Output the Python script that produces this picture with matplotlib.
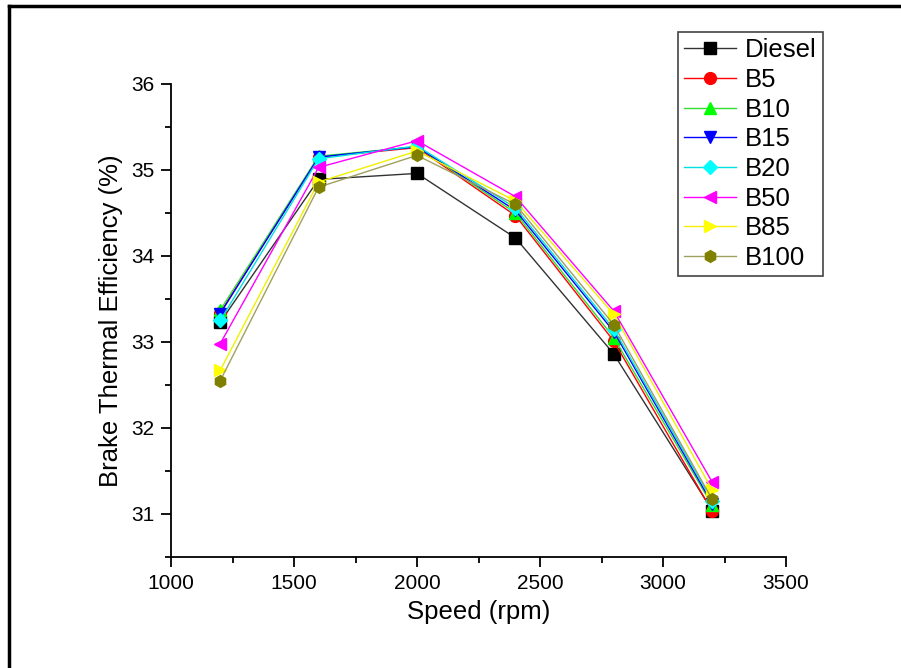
import matplotlib
matplotlib.use('Agg')
import matplotlib.pyplot as plt
from matplotlib.lines import Line2D
from matplotlib.ticker import MultipleLocator, AutoMinorLocator

plt.rcParams['font.family'] = ['Liberation Sans', 'DejaVu Sans']

speed = [1200, 1600, 2000, 2400, 2800, 3200]

diesel = [33.23, 34.89, 34.96, 34.21, 32.86, 31.04]
b5     = [33.34, 35.15, 35.26, 34.47, 33.01, 31.03]
b10    = [33.37, 35.16, 35.27, 34.50, 33.05, 31.10]
b15    = [33.33, 35.15, 35.27, 34.53, 33.12, 31.12]
b20    = [33.25, 35.13, 35.28, 34.56, 33.15, 31.15]
b50    = [32.98, 35.03, 35.34, 34.69, 33.36, 31.37]
b85    = [32.67, 34.86, 35.22, 34.64, 33.32, 31.28]
b100   = [32.55, 34.80, 35.17, 34.60, 33.20, 31.17]

series = [
    ('Diesel', diesel, 's', '#000000', '#333333'),
    ('B5', b5, 'o', '#ff0000', '#ff0000'),
    ('B10', b10, '^', '#00ff00', '#33dd33'),
    ('B15', b15, 'v', '#0000ff', '#0000ff'),
    ('B20', b20, 'D', '#00ffff', '#00e0e0'),
    ('B50', b50, '<', '#ff00ff', '#ff00ff'),
    ('B85', b85, '>', '#ffff00', '#f0f000'),
    ('B100', b100, 'h', '#808000', '#a0a060'),
]

fig = plt.figure(figsize=(9.01, 6.68), dpi=100)
ax = fig.add_axes([0.1898, 0.1662, 0.6826, 0.7081])

for name, vals, mk, mcol, lcol in series:
    ms = 7.5 if mk == 'D' else 8.5
    ax.plot(speed, vals, marker=mk, color=lcol, markerfacecolor=mcol,
            markeredgecolor=mcol, lw=1, ms=ms, label=name)

ax.set_xlim(1000, 3500)
ax.set_ylim(30.5, 36)
ax.xaxis.set_major_locator(MultipleLocator(500))
ax.yaxis.set_major_locator(MultipleLocator(1))
ax.xaxis.set_minor_locator(AutoMinorLocator(2))
ax.yaxis.set_minor_locator(AutoMinorLocator(2))
ax.tick_params(which='major', direction='out', length=7, width=1.3,
               labelsize=15, pad=5)
ax.tick_params(which='minor', direction='out', length=4, width=1.3)
for s in ['top', 'right']:
    ax.spines[s].set_visible(False)
for s in ['left', 'bottom']:
    ax.spines[s].set_linewidth(1.3)

ax.set_xlabel('Speed (rpm)', fontsize=18.5, labelpad=5)
ax.set_ylabel('Brake Thermal Efficiency (%)', fontsize=18.5, labelpad=6)

leg = fig.legend(loc='upper left', bbox_to_anchor=(0.7525, 0.952),
                 bbox_transform=fig.transFigure, borderaxespad=0,
                 fontsize=18.5, handlelength=2.0, fancybox=False,
                 framealpha=1, edgecolor='#444444', labelspacing=0.22,
                 handletextpad=0.35, borderpad=0.25)
leg.get_frame().set_linewidth(1.2)

# figure border (left and top edges visible)
fig.add_artist(Line2D([0.0095, 0.0095], [0.0, 0.991], transform=fig.transFigure,
                      color='black', lw=2.5))
fig.add_artist(Line2D([0.0095, 1.0], [0.991, 0.991], transform=fig.transFigure,
                      color='black', lw=2.5))

fig.savefig('out.png', dpi=100)
